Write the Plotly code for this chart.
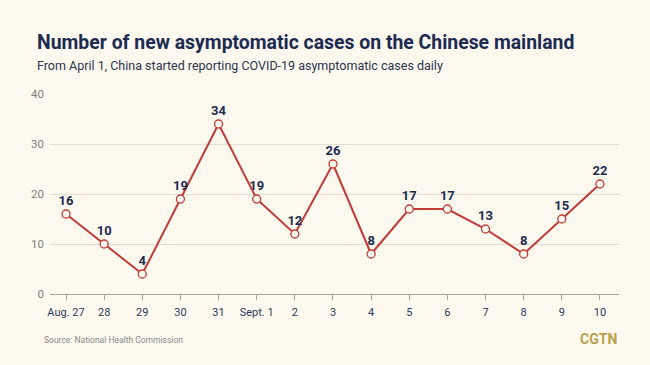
import plotly.graph_objects as go

dates = ["Aug. 27", "28", "29", "30", "31", "Sept. 1", "2", "3", "4", "5", "6", "7", "8", "9", "10"]
new_cases = [16, 10, 4, 19, 34, 19, 12, 26, 8, 17, 17, 13, 8, 15, 22]
y_ticks = [0, 10, 20, 30, 40]

BG = "#fdf9ee"
NAVY = "#1c2b52"
RED = "#c23b36"

x_idx = list(range(len(dates)))

fig = go.Figure()
fig.add_trace(go.Scatter(
    x=x_idx, y=new_cases,
    mode="lines+markers+text",
    line=dict(color=RED, width=2),
    marker=dict(size=8, color=BG, line=dict(color=RED, width=1.3)),
    text=[str(v) for v in new_cases],
    textposition="top center",
    textfont=dict(family="Roboto", size=13, color=NAVY, weight="bold"),
    cliponaxis=False,
    hoverinfo="skip",
))

fig.update_layout(
    width=650, height=365,
    paper_bgcolor=BG, plot_bgcolor=BG,
    margin=dict(l=50, r=31, t=94, b=71),
    showlegend=False,
    font=dict(family="Roboto"),
    xaxis=dict(
        range=[-0.42, 14.5],
        tickmode="array", tickvals=x_idx, ticktext=dates,
        showgrid=False, zeroline=False,
        showline=True, linecolor="#a8a39a", linewidth=1,
        ticks="outside", ticklen=5, tickcolor="#a8a39a",
        tickfont=dict(family="Roboto", size=11, color="#2a3a62"),
        ticklabelstandoff=3,
        fixedrange=True,
    ),
    yaxis=dict(
        range=[0, 40],
        tickmode="array", tickvals=y_ticks,
        showgrid=True, gridcolor="#e3ddd0", gridwidth=1,
        zeroline=False, showline=False,
        tickfont=dict(family="Roboto", size=11.5, color="#808080"),
        ticklabelstandoff=5,
        fixedrange=True,
    ),
)

fig.add_annotation(text="<b>Number of new asymptomatic cases on the Chinese mainland</b>",
                   xref="paper", yref="paper", x=-15/569, y=1 + (94 - 42) / 200,
                   xanchor="left", yanchor="middle", showarrow=False,
                   font=dict(family="Roboto", size=19.4, color=NAVY))
fig.add_annotation(text="From April 1, China started reporting COVID-19 asymptomatic cases daily",
                   xref="paper", yref="paper", x=-15/569, y=1 + (94 - 65) / 200,
                   xanchor="left", yanchor="middle", showarrow=False,
                   font=dict(family="Roboto", size=12.5, color="#2a3550"))
fig.add_annotation(text="Source: National Health Commission",
                   xref="paper", yref="paper", x=-8/569, y=-(340 - 294) / 200,
                   xanchor="left", yanchor="middle", showarrow=False,
                   font=dict(family="Roboto", size=8.5, color="#8a8a8a"))
fig.add_annotation(text="<b>CGTN</b>",
                   xref="paper", yref="paper", x=(619 - 50) / 569, y=-(339 - 294) / 200,
                   xanchor="right", yanchor="middle", showarrow=False,
                   font=dict(family="Roboto", size=14, color="#b9a04c"))

fig.write_html("out.html",
               config={"displayModeBar": False},
               post_script="document.body.style.margin='0';document.body.style.background='#fdf9ee';")
